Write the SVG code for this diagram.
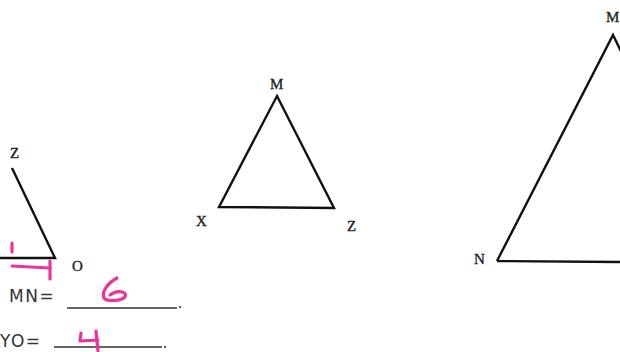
<svg xmlns="http://www.w3.org/2000/svg" width="620" height="352" viewBox="0 0 620 352">
<style>
.tri{fill:none;stroke:#111;stroke-width:2.4;stroke-linejoin:miter}
.lbl{font-family:"Liberation Serif",serif;font-size:15px;fill:#222;stroke:#222;stroke-width:0.35}
.sans{font-family:"DejaVu Sans","Liberation Sans",sans-serif;font-size:17px;fill:#333;letter-spacing:1.5px}
.ink{fill:none;stroke:#e8369b;stroke-width:3.2;stroke-linecap:round;stroke-linejoin:round}
.ul{stroke:#333;stroke-width:1.3}
</style>
<rect width="620" height="352" fill="#fff"/>
<g id="left-triangle">
<path class="tri" d="M12,168 L55,258 L0,258"/>
<text class="lbl" x="10" y="158">Z</text>
<text class="lbl" x="72" y="271">O</text>
</g>
<g id="marks">
<path class="ink" d="M12,243 L12,252"/>
<path class="ink" d="M12,266 L50,268"/>
<path class="ink" d="M50,261 L50,279"/>
</g>
<g id="middle-triangle">
<path class="tri" d="M277,96 L334,208 L219,207 Z"/>
<text class="lbl" x="270" y="89">M</text>
<text class="lbl" x="196" y="226">X</text>
<text class="lbl" x="347" y="231">Z</text>
</g>
<g id="right-triangle">
<path class="tri" d="M497,261 L613,35 L640,90 M497,261 L620,262"/>
<text class="lbl" x="606" y="22">M</text>
<text class="lbl" x="474" y="264">N</text>
</g>
<g id="answers">
<text class="sans" x="9" y="302">MN=</text>
<line class="ul" x1="67" y1="308" x2="177" y2="308"/>
<circle cx="180" cy="307" r="1.1" fill="#333"/>
<path class="ink" d="M117,278 C108,283 101,292 104,298 C107,302 121,301 125,297 C128,292 118,289 110,295"/>
<text class="sans" x="0" y="347">YO=</text>
<line class="ul" x1="54" y1="347" x2="162" y2="347"/>
<circle cx="165" cy="347" r="1.1" fill="#333"/>
<path class="ink" d="M81,333 L80,341 L98,340 M96,331 L98,351"/>
</g>
</svg>
